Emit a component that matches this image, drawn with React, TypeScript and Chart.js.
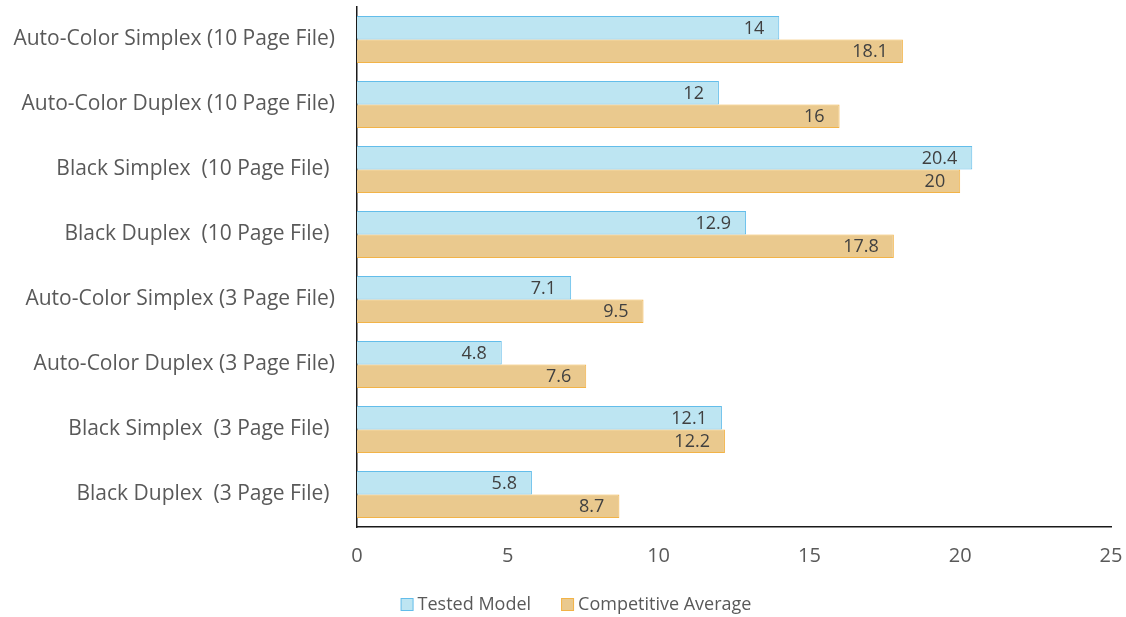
import React, { useEffect, useRef } from "react";
import { Chart, registerables } from "chart.js";

Chart.register(...registerables);

const categories = [
  "Auto-Color Simplex (10 Page File)",
  "Auto-Color Duplex (10 Page File)",
  "Black Simplex  (10 Page File) ",
  "Black Duplex  (10 Page File) ",
  "Auto-Color Simplex (3 Page File)",
  "Auto-Color Duplex (3 Page File)",
  "Black Simplex  (3 Page File) ",
  "Black Duplex  (3 Page File) ",
];
const testedModel = [14, 12, 20.4, 12.9, 7.1, 4.8, 12.1, 5.8];
const competitiveAverage = [18.1, 16, 20, 17.8, 9.5, 7.6, 12.2, 8.7];
const xTicks = [0, 5, 10, 15, 20, 25];

const FONT = "'Open Sans', 'Noto Sans', sans-serif";

const valueLabels = {
  id: "valueLabels",
  afterDatasetsDraw(chart: any) {
    const ctx = chart.ctx;
    ctx.save();
    ctx.font = `18px ${FONT}`;
    ctx.fillStyle = "#404040";
    ctx.textAlign = "right";
    ctx.textBaseline = "middle";
    chart.data.datasets.forEach((ds: any, i: number) => {
      const meta = chart.getDatasetMeta(i);
      meta.data.forEach((bar: any, j: number) => {
        ctx.fillText(String(ds.data[j]), bar.x - 15, bar.y + 1);
      });
    });
    ctx.restore();
  },
};

const bottomLegend = {
  id: "bottomLegend",
  afterDraw(chart: any) {
    const ctx = chart.ctx;
    const box = 12;
    const gapText = 5;
    const gapItem = 30;
    ctx.save();
    ctx.font = `18px ${FONT}`;
    ctx.textBaseline = "middle";
    ctx.textAlign = "left";
    const items = chart.data.datasets.map((ds: any) => ({
      label: ds.label,
      fill: ds.backgroundColor,
      stroke: ds.borderColor,
      w: ctx.measureText(ds.label).width,
    }));
    const total =
      items.reduce((s: number, it: any) => s + box + gapText + it.w, 0) +
      gapItem * (items.length - 1);
    const cx = chart.width / 2 + 13;
    const cy = chart.height - 13;
    let x = cx - total / 2;
    items.forEach((it: any) => {
      ctx.fillStyle = it.fill;
      ctx.strokeStyle = it.stroke;
      ctx.lineWidth = 1;
      ctx.fillRect(x + 0.5, cy - box / 2 + 0.5, box, box);
      ctx.strokeRect(x + 0.5, cy - box / 2 + 0.5, box, box);
      ctx.fillStyle = "#595959";
      ctx.fillText(it.label, x + box + gapText, cy + 1);
      x += box + gapText + it.w + gapItem;
    });
    ctx.restore();
  },
};

export default function App() {
  const ref = useRef<HTMLCanvasElement>(null);
  useEffect(() => {
    document.body.style.margin = "0";
    const chart = new Chart(ref.current!, {
      type: "bar",
      data: {
        labels: categories,
        datasets: [
          {
            label: "Tested Model",
            data: testedModel,
            backgroundColor: "#BDE5F2",
            borderColor: "#63BDEA",
            borderWidth: 1,
            borderSkipped: "start",
          },
          {
            label: "Competitive Average",
            data: competitiveAverage,
            backgroundColor: "#EAC98E",
            borderColor: "#F2B347",
            borderWidth: 1,
            borderSkipped: "start",
          },
        ],
      },
      options: {
        indexAxis: "y",
        animation: false,
        responsive: false,
        maintainAspectRatio: false,
        layout: { padding: { top: 7, right: 15, left: 0, bottom: 0 } },
        datasets: {
          bar: { categoryPercentage: 0.72, barPercentage: 1 },
        },
        scales: {
          x: {
            min: 0,
            max: 25,
            afterBuildTicks(scale: any) {
              scale.ticks = xTicks.map((v) => ({ value: v }));
            },
            afterFit(scale: any) {
              scale.height = 90;
              scale.paddingLeft = 0;
              scale.paddingRight = 0;
            },
            grid: { display: false, drawTicks: false },
            border: { display: true, color: "#1a1a1a", width: 1.5 },
            ticks: {
              padding: 17,
              color: "#595959",
              font: { family: FONT, size: 20 },
            },
          },
          y: {
            grid: { display: false, drawTicks: false },
            border: { display: true, color: "#1a1a1a", width: 1.5 },
            afterFit(scale: any) {
              scale.width = 357;
              scale.paddingTop = 0;
              scale.paddingBottom = 0;
            },
            ticks: {
              padding: 22,
              color: "#595959",
              font: { family: FONT, size: 21 },
            },
          },
        },
        plugins: {
          legend: { display: false },
          tooltip: { enabled: false },
        },
      },
      plugins: [valueLabels, bottomLegend],
    } as any);
    return () => chart.destroy();
  }, []);
  return (
    <div style={{ width: 1126, height: 617 }}>
      <canvas ref={ref} width={1126} height={617} style={{ display: "block" }} />
    </div>
  );
}
